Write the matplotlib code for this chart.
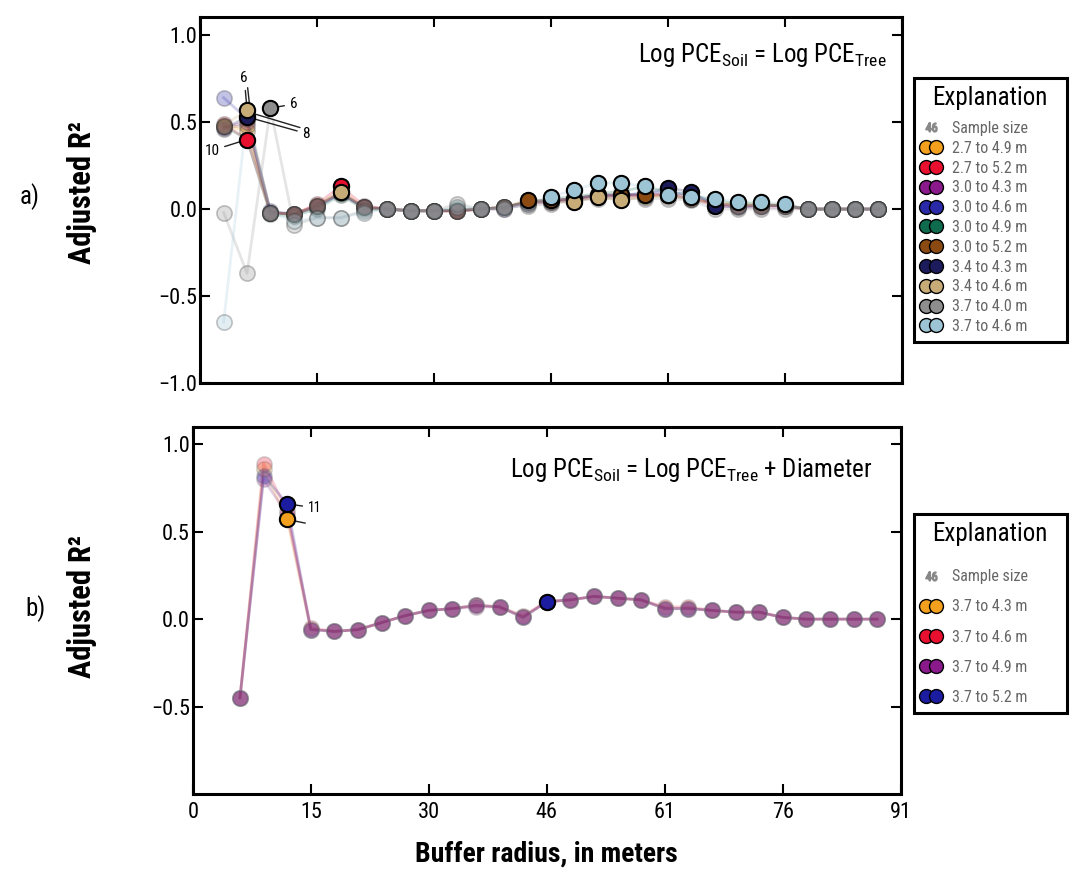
import numpy as np
import matplotlib
matplotlib.use('Agg')
import matplotlib.pyplot as plt
from matplotlib import font_manager
from matplotlib.lines import Line2D
from matplotlib.legend_handler import HandlerLine2D

# pick a narrow font if one is there
names = {f.name for f in font_manager.fontManager.ttflist}
base_font = 'DejaVu Sans'
for cand in ['Roboto Condensed', 'Liberation Sans Narrow', 'Open Sans Condensed', 'Liberation Sans']:
    if cand in names:
        base_font = cand
        break
plt.rcParams['font.family'] = [base_font, 'DejaVu Sans']
plt.rcParams['mathtext.default'] = 'regular'

# buffer radius, 10-ft steps, in meters
radius_ft = [10, 20, 30, 40, 50, 60, 70, 80, 90, 100, 110, 120, 130, 140, 150,
             160, 170, 180, 190, 200, 210, 220, 230, 240, 250, 260, 270, 280, 290]
radius_m = np.array(radius_ft) * 0.3048
tick_ft = [0, 50, 100, 150, 200, 250, 300]
tick_labels = ['0', '15', '30', '46', '61', '76', '91']

nan = np.nan

# panel a: Log PCE soil = Log PCE tree
labels_a = ['2.7 to 4.9 m', '2.7 to 5.2 m', '3.0 to 4.3 m', '3.0 to 4.6 m', '3.0 to 4.9 m',
            '3.0 to 5.2 m', '3.4 to 4.3 m', '3.4 to 4.6 m', '3.7 to 4.0 m', '3.7 to 4.6 m']
colors_a = ['#f2a01e', '#e8102e', '#8a1a8c', '#2a2aa8', '#0e6b4e',
            '#8a4a12', '#1c1c5c', '#c8ac78', '#8e8e8e', '#9cc4d4']
orange_a = [0.48, 0.45, -0.02, -0.03, 0.02, 0.10, 0.01, 0.00, -0.01, -0.01, -0.01, 0.00, 0.01, 0.04, 0.04,
            0.05, 0.07, 0.06, 0.07, 0.08, 0.06, 0.03, 0.03, 0.03, 0.02, 0.00, 0.00, 0.00, 0.00]
red_a = [0.49, 0.40, -0.02, -0.03, 0.03, 0.13, 0.02, 0.00, -0.01, -0.01, -0.01, 0.00, 0.01, 0.04, 0.05,
         0.06, 0.08, 0.08, 0.08, 0.09, 0.07, 0.03, 0.02, 0.02, 0.02, 0.00, 0.00, 0.00, 0.00]
purple_a = [0.47, 0.50, -0.02, -0.03, 0.02, 0.09, 0.01, 0.00, -0.01, -0.01, -0.01, 0.00, 0.00, 0.03, 0.04,
            0.05, 0.07, 0.07, 0.08, 0.08, 0.06, 0.02, 0.01, 0.01, 0.01, 0.00, 0.00, 0.00, 0.00]
blue_a = [0.64, 0.52, -0.01, -0.03, 0.02, 0.09, 0.01, 0.00, -0.01, -0.01, -0.01, 0.00, 0.01, 0.04, 0.05,
          0.06, 0.08, 0.08, 0.09, 0.10, 0.08, 0.03, 0.02, 0.02, 0.02, 0.00, 0.00, 0.00, 0.00]
green_a = [0.48, 0.40, -0.03, -0.04, 0.00, 0.08, 0.00, 0.00, -0.01, -0.01, 0.00, 0.00, 0.01, 0.04, 0.06,
           0.07, 0.09, 0.10, 0.13, 0.10, 0.08, 0.05, 0.03, 0.03, 0.02, 0.00, 0.00, 0.00, 0.00]
brown_a = [0.47, 0.48, -0.02, -0.03, 0.02, 0.10, 0.01, 0.00, -0.01, -0.01, -0.01, 0.00, 0.01, 0.05, 0.05,
           0.06, 0.08, 0.08, 0.08, 0.08, 0.06, 0.03, 0.02, 0.02, 0.02, 0.00, 0.00, 0.00, 0.00]
navy_a = [0.46, 0.53, -0.02, -0.03, 0.01, 0.09, 0.01, 0.00, -0.01, -0.01, -0.01, 0.00, 0.01, 0.04, 0.04,
          0.06, 0.08, 0.08, 0.09, 0.12, 0.10, 0.02, 0.01, 0.02, 0.02, 0.00, 0.00, 0.00, 0.00]
tan_a = [0.48, 0.57, -0.02, -0.03, 0.02, 0.10, 0.01, 0.00, -0.01, -0.01, -0.01, 0.00, 0.01, 0.04, 0.04,
         0.04, 0.07, 0.05, 0.07, 0.07, 0.06, 0.03, 0.02, 0.02, 0.02, 0.00, 0.00, 0.00, 0.00]
gray_a = [-0.02, -0.37, 0.58, -0.09, -0.05, -0.05, -0.01, 0.00, -0.01, -0.01, 0.03, 0.00, 0.01, 0.02, 0.03,
          0.05, 0.06, 0.06, 0.06, 0.06, 0.05, 0.00, 0.00, 0.00, 0.00, 0.00, 0.00, 0.00, 0.00]
lblue_a = [-0.65, 0.55, -0.02, -0.07, -0.05, -0.05, -0.02, 0.00, -0.01, -0.01, 0.01, 0.00, 0.00, 0.03, 0.07,
           0.11, 0.15, 0.15, 0.13, 0.08, 0.07, 0.06, 0.04, 0.04, 0.03, 0.00, 0.00, 0.00, 0.00]
series_a = [orange_a, red_a, purple_a, blue_a, green_a, brown_a, navy_a, tan_a, gray_a, lblue_a]
# points drawn solid (index into radius_ft)
solid_a = [[], [1, 5], [], [], [], [13, 14, 15, 16, 17, 18, 19], [1, 19, 20, 21],
           [1, 5, 15, 16, 17], [2], [14, 15, 16, 17, 18, 19, 20, 21, 22, 23, 24]]

# panel b: Log PCE soil = Log PCE tree + diameter (starts at 20 ft)
labels_b = ['3.7 to 4.3 m', '3.7 to 4.6 m', '3.7 to 4.9 m', '3.7 to 5.2 m']
colors_b = ['#f2a01e', '#e8102e', '#8a1a8c', '#1c1ca0']
orange_b = [nan, -0.45, 0.86, 0.57, -0.06, -0.07, -0.06, -0.02, 0.02, 0.05, 0.06, 0.08, 0.07, 0.01, 0.10,
            0.11, 0.13, 0.12, 0.11, 0.06, 0.06, 0.05, 0.04, 0.04, 0.01, 0.00, 0.00, 0.00, 0.00]
red_b = [nan, -0.45, 0.89, 0.62, -0.05, -0.07, -0.06, -0.02, 0.02, 0.05, 0.06, 0.08, 0.07, 0.02, 0.10,
         0.11, 0.13, 0.12, 0.11, 0.07, 0.07, 0.05, 0.04, 0.04, 0.01, 0.00, 0.00, 0.00, 0.00]
purple_b = [nan, -0.45, 0.80, 0.60, -0.06, -0.07, -0.06, -0.02, 0.02, 0.05, 0.06, 0.07, 0.07, 0.01, 0.10,
            0.11, 0.13, 0.12, 0.11, 0.06, 0.06, 0.05, 0.04, 0.04, 0.01, 0.00, 0.00, 0.00, 0.00]
blue_b = [nan, -0.45, 0.82, 0.66, -0.06, -0.07, -0.06, -0.02, 0.02, 0.05, 0.06, 0.08, 0.07, 0.01, 0.10,
          0.11, 0.13, 0.12, 0.11, 0.06, 0.06, 0.05, 0.04, 0.04, 0.01, 0.00, 0.00, 0.00, 0.00]
series_b = [orange_b, red_b, purple_b, blue_b]
solid_b = [[3], [], [], [3, 14]]

fig = plt.figure(figsize=(10.71, 8.75), dpi=100)
ax_a = fig.add_axes([0.187, 0.5623, 0.655, 0.418])
ax_b = fig.add_axes([0.180, 0.0926, 0.661, 0.419])


def draw_panel(ax, series, colors, solid, fade, edge):
    for vals, c in zip(series, colors):
        ax.plot(radius_m, vals, '-', color=c, lw=2, alpha=fade * 0.8, zorder=2)
        ax.plot(radius_m, vals, 'o', ms=11, mfc=c, mec=edge, mew=1.2,
                alpha=fade, zorder=3, ls='none')
    for vals, c, idx in zip(series, colors, solid):
        if idx:
            v = np.array(vals)
            ax.plot(radius_m[idx], v[idx], 'o', ms=11, mfc=c, mec='black', mew=1.5,
                    ls='none', zorder=5)


draw_panel(ax_a, series_a, colors_a, solid_a, 0.28, '#333333')
draw_panel(ax_b, series_b, colors_b, solid_b, 0.28, '#777777')

for ax in (ax_a, ax_b):
    ax.set_xlim(0, 300 * 0.3048)
    ax.set_xticks(np.array(tick_ft) * 0.3048)
    ax.tick_params(direction='in', top=True, right=True, length=7, width=1.5,
                   labelsize=16)
    ax.tick_params(axis='y', pad=2)
    ax.tick_params(axis='x', pad=6)
    for s in ax.spines.values():
        s.set_linewidth(2.2)

ax_a.set_ylim(-1.0, 1.103)
ax_a.set_yticks([-1.0, -0.5, 0.0, 0.5, 1.0])
ax_a.set_yticklabels(['\u22121.0', '\u22120.5', '0.0', '0.5', '1.0'])
ax_a.set_xticklabels([])

ax_b.set_ylim(-1.0, 1.097)
ax_b.set_yticks([-0.5, 0.0, 0.5, 1.0])
ax_b.set_yticklabels(['\u22120.5', '0.0', '0.5', '1.0'])
ax_b.set_xticklabels(tick_labels)

ax_a.set_ylabel('Adjusted R\u00b2', fontsize=22, fontweight='bold')
ax_a.yaxis.set_label_coords(-0.147, 0.52)
ax_b.set_ylabel('Adjusted R\u00b2', fontsize=22, fontweight='bold')
ax_b.yaxis.set_label_coords(-0.136, 0.51)
ax_b.set_xlabel('Buffer radius, in meters', fontsize=20, fontweight='bold')
ax_b.xaxis.set_label_coords(0.5, -0.128)

ax_a.text(0.979, 0.896, 'Log PCE$_{Soil}$ = Log PCE$_{Tree}$', transform=ax_a.transAxes,
          ha='right', va='center', fontsize=18)
ax_b.text(0.96, 0.883, 'Log PCE$_{Soil}$ = Log PCE$_{Tree}$ + Diameter', transform=ax_b.transAxes,
          ha='right', va='center', fontsize=18)

fig.text(0.028, 0.775, 'a)', fontsize=18, ha='center', va='center')
fig.text(0.033, 0.305, 'b)', fontsize=18, ha='center', va='center')

# sample size callouts
arrow = dict(arrowstyle='-', color='#222222', lw=1)
ax_a.annotate('6', xy=(radius_m[1], tan_a[1]), xytext=(-2, 18), textcoords='offset points',
              fontsize=11, ha='center', va='bottom', arrowprops=arrow)
ax_a.annotate('', xy=(radius_m[1] + 0.4, tan_a[1]), xytext=(-2, 18), textcoords='offset points',
              arrowprops=arrow)
ax_a.annotate('8', xy=(radius_m[1], navy_a[1]), xytext=(40, -12), textcoords='offset points',
              fontsize=11, ha='left', va='center', arrowprops=arrow)
ax_a.annotate('', xy=(radius_m[1], navy_a[1] + 0.03), xytext=(40, -12), textcoords='offset points',
              arrowprops=arrow)
ax_a.annotate('10', xy=(radius_m[1], red_a[1]), xytext=(-20, -8), textcoords='offset points',
              fontsize=11, ha='right', va='center', arrowprops=arrow)
ax_a.annotate('6', xy=(radius_m[2], gray_a[2]), xytext=(14, 3), textcoords='offset points',
              fontsize=11, ha='left', va='center', arrowprops=arrow)
ax_b.annotate('11', xy=(radius_m[3], blue_b[3]), xytext=(15, -3), textcoords='offset points',
              fontsize=10, ha='left', va='center', arrowprops=arrow)
ax_b.annotate('', xy=(radius_m[3], orange_b[3]), xytext=(15, -3), textcoords='offset points',
              arrowprops=arrow)

# legends
def make_legend(labels, colors, bbox, spacing, title_gap):
    head = Line2D([], [], marker='$46$', ms=8, color='#888888', ls='none')
    handles = [head]
    for c in colors:
        handles.append(Line2D([], [], color=c, lw=2, marker='o', ms=10, mfc=c,
                              mec='black', mew=1))
    leg = fig.legend(handles, ['Sample size'] + labels, loc='upper left', bbox_to_anchor=bbox,
                     mode='expand', borderaxespad=0, numpoints=2, handlelength=1.2,
                     handletextpad=0.7, labelspacing=spacing, fontsize=11.5,
                     title='Explanation', title_fontsize=18, fancybox=False,
                     edgecolor='black', framealpha=1, borderpad=0.5,
                     handler_map={head: HandlerLine2D(numpoints=1)})
    leg.get_frame().set_linewidth(2.2)
    leg._legend_box.sep = title_gap
    for t in leg.get_texts():
        t.set_color('#666666')
    return leg


make_legend(labels_a, colors_a, (0.853, 0.609, 0.143, 0.302), 0.3, 8)
make_legend(labels_b, colors_b, (0.853, 0.181, 0.143, 0.232), 0.95, 17)

fig.savefig('out.png', dpi=100)
